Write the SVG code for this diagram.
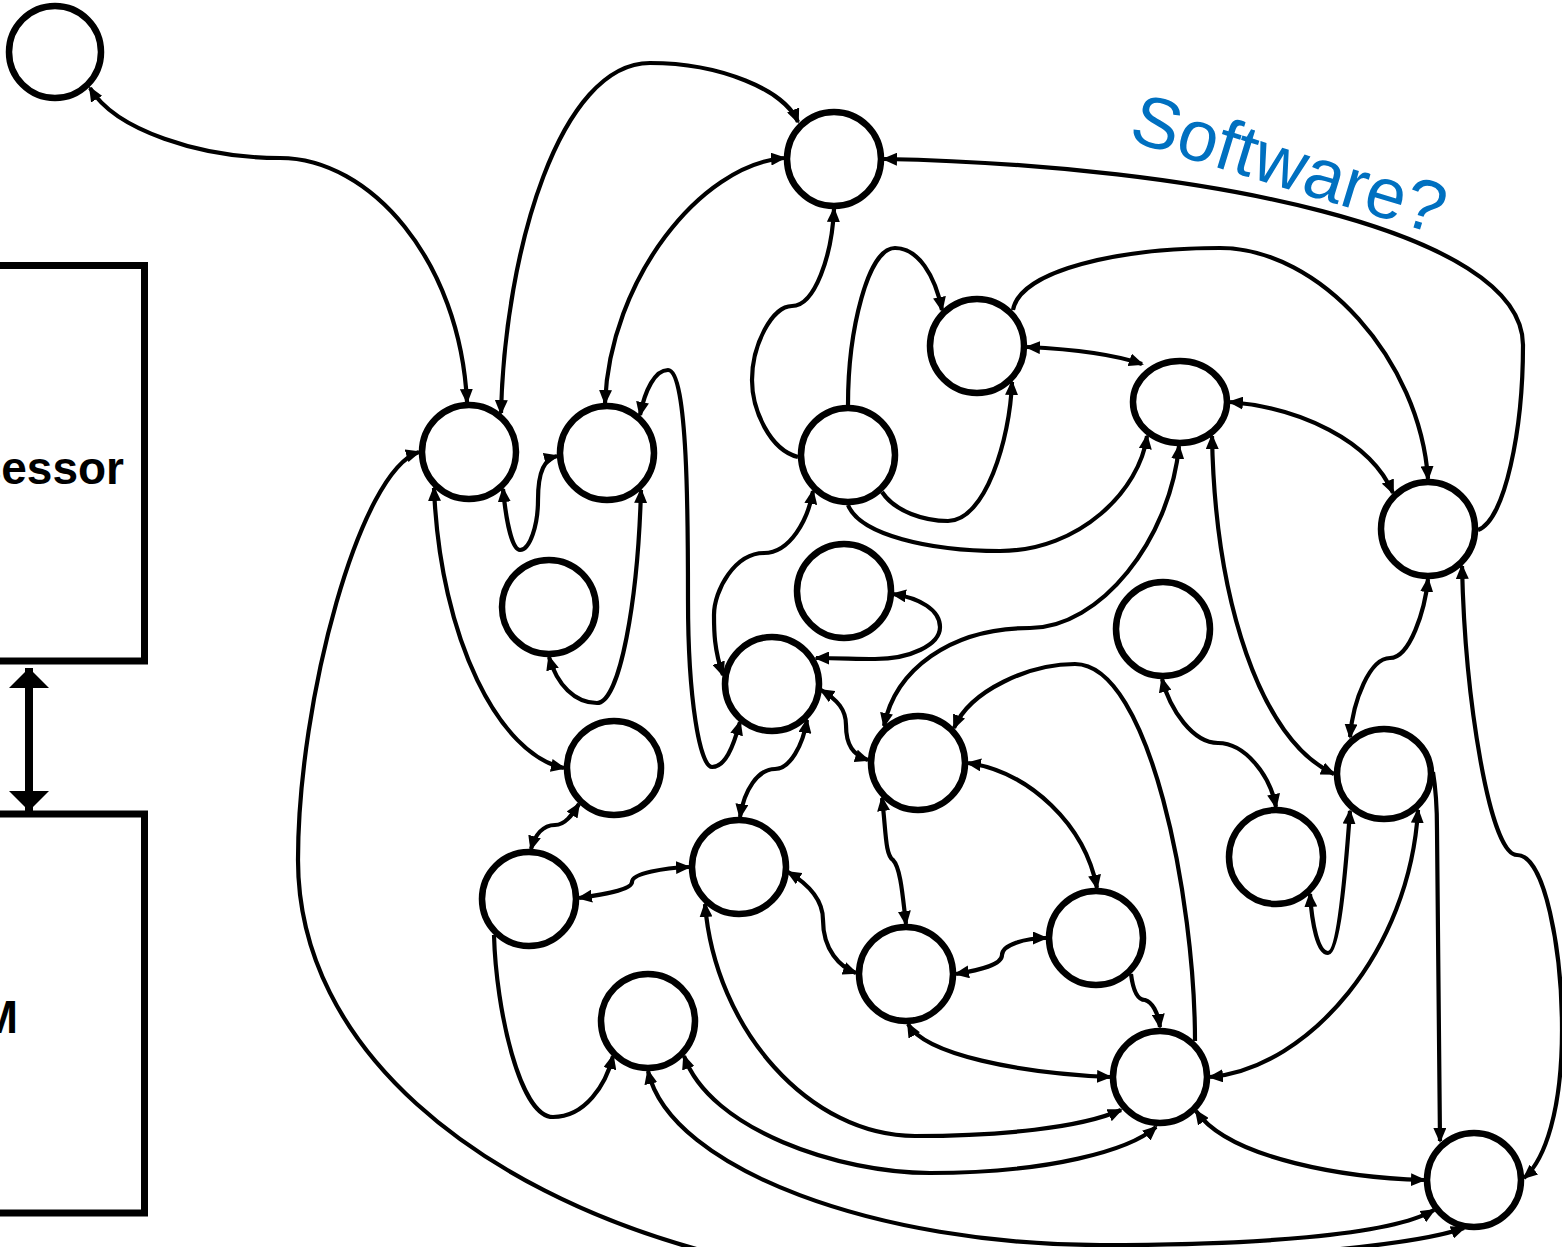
<svg xmlns="http://www.w3.org/2000/svg" width="1562" height="1247" viewBox="0 0 1562 1247">
<style>
.n{fill:#fff;stroke:#000;stroke-width:6.5}
.box{fill:#fff;stroke:#000;stroke-width:7}
.e{fill:none;stroke:#000;stroke-width:4.2;marker-start:url(#ah);marker-end:url(#ah)}
.s{fill:none;stroke:#000;stroke-width:4.2;marker-end:url(#ah)}
.lbl{font-family:"Liberation Sans",Arial,sans-serif;font-weight:bold;font-size:46px;fill:#000}
.sw{font-family:"Liberation Sans",Arial,sans-serif;font-size:72px;fill:#0070C0}
</style>
<defs>
<marker id="ah" viewBox="0 0 15 13" refX="13" refY="6.5" markerWidth="15" markerHeight="13" markerUnits="userSpaceOnUse" orient="auto-start-reverse"><path d="M0,0 L15,6.5 L0,13 z" fill="#000"/></marker>
<marker id="big" viewBox="0 0 20 40" refX="20" refY="20" markerWidth="20" markerHeight="40" markerUnits="userSpaceOnUse" orient="auto-start-reverse"><path d="M0,0 L20,20 L0,40 z" fill="#000"/></marker>
</defs>
<rect width="1562" height="1247" fill="#fff"/>
<g id="processor"><rect class="box" x="-10" y="265.5" width="154.5" height="395.5"/><text class="lbl" x="124" y="484" text-anchor="end">Processor</text></g>
<g id="ram"><rect class="box" x="-10" y="814" width="154.5" height="399"/><text class="lbl" x="18" y="1033" text-anchor="end">RAM</text></g>
<g id="bus"><line x1="29" y1="668" x2="29" y2="811" stroke="#000" stroke-width="8" marker-start="url(#big)" marker-end="url(#big)"/></g>
<g id="connectors">
<path class="e" d="M90,88 C115,130 200,158 280,158 C370,158 460,260 467,402"/>
<path class="e" d="M501,413 C505,250 560,63 650,63 C720,63 785,90 798,122"/>
<path class="e" d="M605,403 C610,280 700,165 784,158"/>
<path class="e" d="M640,415 C645,390 655,370 668,370 C688,370 688,520 688,600 C688,700 700,767 712,767 C725,767 733,748 740,722"/>
<path class="e" d="M503,489 C506,520 512,550 520,550 C530,550 538,525 538,500 C538,470 545,459 557,456"/>
<path class="e" d="M434,488 C440,640 500,755 564,768"/>
<path class="e" d="M641,490 C638,600 620,703 597,703 C575,703 557,685 549,657"/>
<path class="e" d="M419,452 C360,470 298,700 298,860 C298,1050 480,1190 700,1250 C800,1275 1350,1268 1464,1228"/>
<path class="e" d="M648,1071 C670,1170 880,1245 1100,1245 C1250,1245 1390,1236 1434,1210"/>
<path class="e" d="M684,1056 C710,1130 840,1173 930,1173 C1050,1173 1130,1150 1156,1127"/>
<path class="e" d="M705,904 C715,1030 810,1136 915,1136 C1000,1136 1080,1128 1121,1110"/>
<path class="e" d="M908,1024 C925,1055 1020,1073 1110,1077"/>
<path class="e" d="M1418,810 C1410,950 1310,1068 1210,1077"/>
<path class="e" d="M1196,1111 C1230,1160 1350,1178 1424,1180"/>
<path class="s" d="M1433,772 C1436,790 1437,810 1437,830 L1440,1141"/>
<path class="e" d="M1462,566 C1465,700 1490,855 1517,855 C1545,855 1562,950 1562,1030 C1562,1110 1545,1160 1524,1178"/>
<path class="s" d="M1478,530 C1505,520 1523,430 1523,345 C1523,230 1200,165 884,159"/>
<path class="s" d="M1013,310 C1020,270 1120,248 1220,248 C1320,248 1420,360 1428,479"/>
<path class="e" d="M1027,347 C1070,349 1110,353 1142,364"/>
<path class="e" d="M1230,402 C1300,408 1370,440 1393,493"/>
<path class="s" d="M848,505 C860,535 930,551 1000,551 C1080,551 1140,490 1147,436"/>
<path class="s" d="M882,492 C895,512 925,521 948,521 C985,521 1010,440 1012,382"/>
<path class="s" d="M848,405 C848,330 868,248 895,248 C918,248 935,275 942,310"/>
<path class="s" d="M798,457 C770,450 752,410 752,380 C752,345 772,306 792,306 C815,306 832,255 834,209"/>
<path class="e" d="M723,675 C714,650 714,630 714,615 C714,590 735,553 764,553 C790,553 808,520 813,491"/>
<path class="e" d="M816,658 C840,658 855,659 875,659 C910,659 940,645 940,627 C940,610 920,598 893,594"/>
<path class="e" d="M821,690 C838,700 846,710 846,725 C846,745 853,755 868,760"/>
<path class="e" d="M807,720 C803,745 790,769 775,769 C758,769 744,790 740,817"/>
<path class="e" d="M1179,446 C1170,540 1100,628 1030,628 C950,628 895,670 884,726"/>
<path class="s" d="M1195,1041 C1195,900 1150,664 1075,664 C1030,664 970,690 954,728"/>
<path class="e" d="M968,763 C1030,772 1085,825 1097,888"/>
<path class="e" d="M882,798 C886,830 885,855 893,860 C901,868 903,900 906,924"/>
<path class="e" d="M788,872 C810,885 823,900 823,920 C823,950 840,967 856,973"/>
<path class="e" d="M956,974 C980,970 1002,965 1002,955 C1002,945 1025,938 1046,938"/>
<path class="s" d="M1131,974 C1133,990 1137,1000 1145,1000 C1152,1002 1158,1012 1160,1027"/>
<path class="e" d="M579,804 C572,815 565,825 555,825 C543,825 535,835 531,849"/>
<path class="e" d="M579,898 C600,895 632,890 632,882 C632,873 665,868 689,867"/>
<path class="s" d="M494,935 C496,1010 520,1117 553,1117 C585,1117 606,1085 613,1056"/>
<path class="e" d="M1162,679 C1170,710 1193,743 1218,743 C1245,743 1270,775 1276,807"/>
<path class="e" d="M1212,436 C1215,600 1260,740 1334,774"/>
<path class="e" d="M1428,579 C1425,610 1410,658 1390,658 C1370,658 1353,700 1350,737"/>
<path class="e" d="M1350,811 C1345,880 1338,953 1328,953 C1318,953 1312,925 1310,894"/>
</g>
<g id="n0"><circle class="n" cx="55" cy="52" r="46"/></g>
<g id="n1"><circle class="n" cx="834" cy="159" r="47"/></g>
<g id="n2"><circle class="n" cx="469" cy="452" r="47"/></g>
<g id="n3"><circle class="n" cx="607" cy="453" r="47"/></g>
<g id="n4"><circle class="n" cx="549" cy="607" r="47"/></g>
<g id="n5"><circle class="n" cx="977" cy="346" r="47"/></g>
<g id="n6"><ellipse class="n" cx="1180" cy="402" rx="47" ry="41"/></g>
<g id="n7"><circle class="n" cx="1428" cy="529" r="47"/></g>
<g id="n8"><circle class="n" cx="848" cy="455" r="47"/></g>
<g id="n9"><circle class="n" cx="844" cy="591" r="47"/></g>
<g id="n10"><circle class="n" cx="772" cy="684" r="47"/></g>
<g id="n11"><circle class="n" cx="1163" cy="629" r="47"/></g>
<g id="n12"><circle class="n" cx="614" cy="768" r="47"/></g>
<g id="n13"><circle class="n" cx="918" cy="763" r="47"/></g>
<g id="n14"><circle class="n" cx="529" cy="899" r="47"/></g>
<g id="n15"><circle class="n" cx="739" cy="867" r="47"/></g>
<g id="n16"><ellipse class="n" cx="1384" cy="774" rx="47" ry="45"/></g>
<g id="n17"><circle class="n" cx="1276" cy="857" r="47"/></g>
<g id="n18"><circle class="n" cx="1096" cy="938" r="47"/></g>
<g id="n19"><circle class="n" cx="906" cy="974" r="47"/></g>
<g id="n20"><circle class="n" cx="648" cy="1021" r="47"/></g>
<g id="n21"><ellipse class="n" cx="1160" cy="1077" rx="47" ry="46"/></g>
<g id="n22"><circle class="n" cx="1474" cy="1180" r="47"/></g>
<g id="label"><text class="sw" transform="translate(1127,140) rotate(17)">Software?</text></g>
</svg>
